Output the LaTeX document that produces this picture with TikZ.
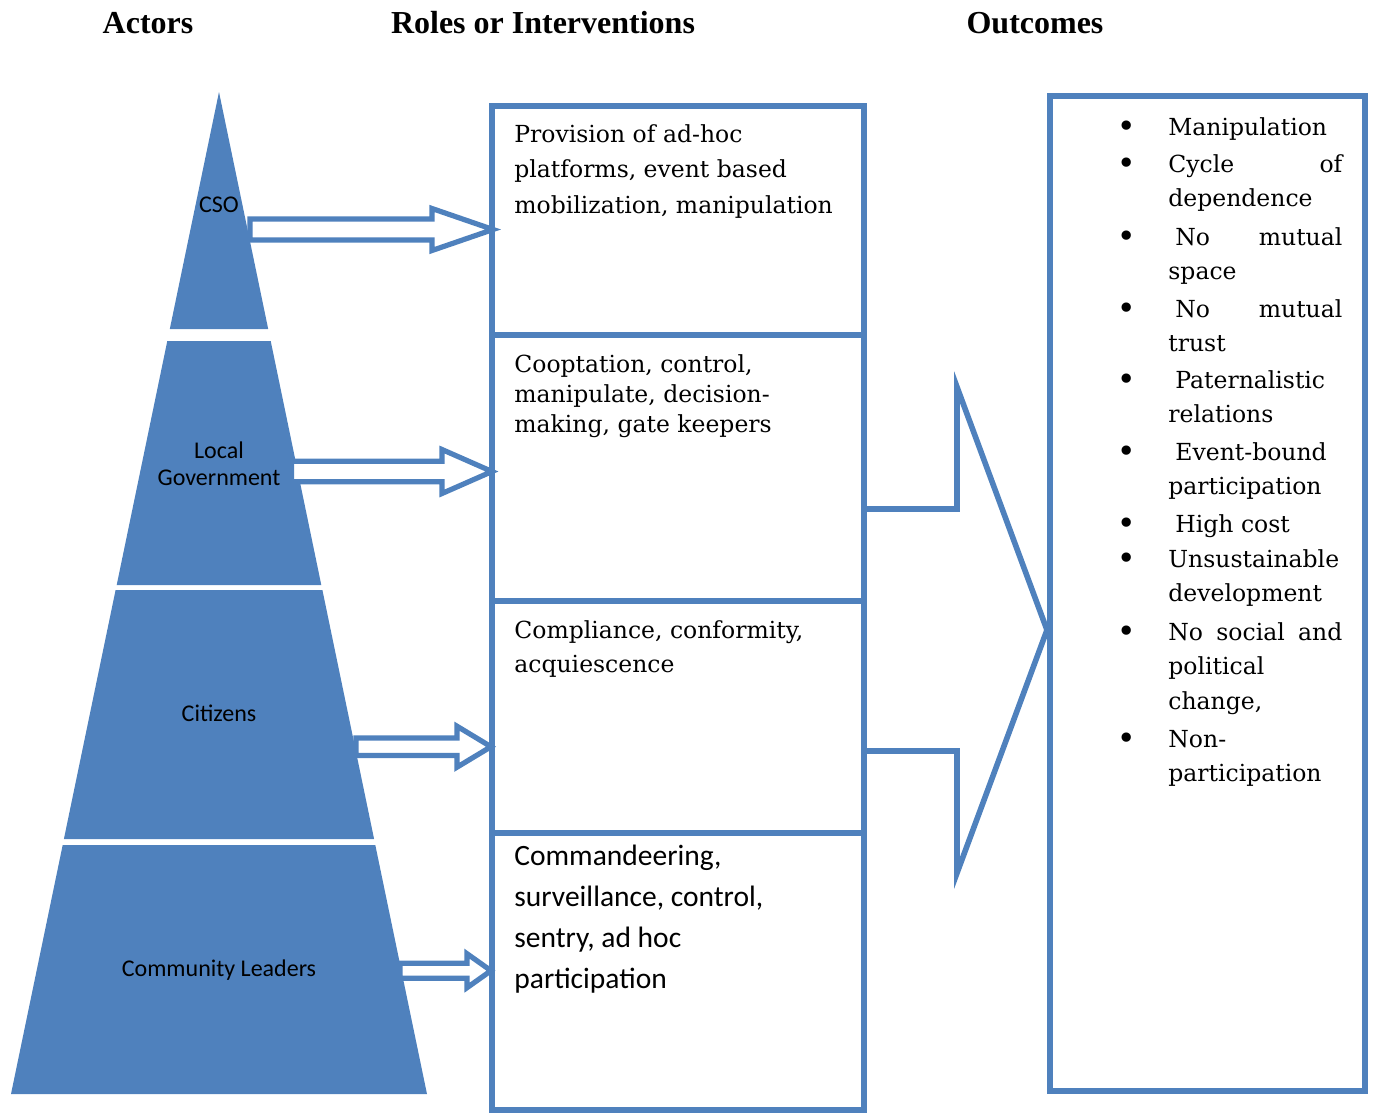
\documentclass[tikz,border=0pt]{standalone}
\usepackage{fontspec}
\setmainfont{DejaVu Serif}
\newfontfamily\headf{Liberation Serif}
\newfontfamily\sansf{Carlito}
\usetikzlibrary{calc}
\definecolor{ofblue}{HTML}{4F81BD}
\newcommand\tlines[2]{\begin{tabular}[t]{@{}#1@{}}#2\end{tabular}}
\newcommand\bul{\llap{\makebox[10pt]{\raisebox{-1pt}{\fontsize{16pt}{16pt}\selectfont\textbullet}}\hspace{16pt}}}
% #1 start, #2 tip, #3 shaft half width, #4 head half width, #5 head length
\newcommand\blockarrow[5]{%
  \draw[blockarr] ($(#1)+(0,-#3)$) -- ($(#2)+(-#5,-#3)$) -- ($(#2)+(-#5,-#4)$) -- (#2)
    -- ($(#2)+(-#5,#4)$) -- ($(#2)+(-#5,#3)$) -- ($(#1)+(0,#3)$) -- cycle;}
\tikzset{
  segment/.style={fill=ofblue},
  rolebox/.style={draw=ofblue, line width=3pt, minimum width=186pt, inner sep=0pt, outer sep=0pt},
  outbox/.style={draw=ofblue, line width=3pt, inner sep=0pt, outer sep=0pt},
  blockarr/.style={draw=ofblue, fill=white, line width=2.6pt, line join=miter, miter limit=20},
  bigarr/.style={draw=ofblue, line width=2.8pt, line join=miter, miter limit=20},
  head/.style={anchor=base, inner sep=0pt, font=\headf\bfseries\fontsize{16pt}{18pt}\selectfont},
  actor/.style={anchor=base, inner sep=0pt, font=\sansf\fontsize{12pt}{13.5pt}\selectfont},
  roletext/.style={anchor=base west, inner sep=0pt},
  outc/.style={anchor=base west, inner sep=0pt, font=\fontsize{11.75pt}{17.25pt}\selectfont}
}
\begin{document}
\begin{tikzpicture}[x=0.5pt,y=-0.5pt]
\useasboundingbox (0,0) rectangle (1373,1114);
% headings
\node[head] (h1) at (148,33) {Actors};
\node[head] (h2) at (543,33) {Roles or Interventions};
\node[head] (h3) at (1035,33) {Outcomes};
% pyramid
\fill[segment] (219,92) -- (268.2,329) -- (169.8,329) -- cycle;
\fill[segment] (167.3,341) -- (270.7,341) -- (321.3,585) -- (116.7,585) -- cycle;
\fill[segment] (115.6,590) -- (322.4,590) -- (374.1,839) -- (63.9,839) -- cycle;
\fill[segment] (62.7,845) -- (375.3,845) -- (427,1094) -- (11,1094) -- cycle;
% role boxes
\node[rolebox, minimum height=114.75pt] (r1) at (677.5,220.25) {};
\node[rolebox, minimum height=133pt] (r2) at (677.5,468) {};
\node[rolebox, minimum height=116pt] (r3) at (677.5,717) {};
\node[rolebox, minimum height=138.5pt] (r4) at (677.5,971.5) {};
% outcomes box
\node[outbox, minimum width=157.5pt, minimum height=497.75pt] (ob) at (1207.5,593.25) {};
% block arrows actor -> role
\coordinate (a1s) at (250,229.5);   \coordinate (a1t) at (493,229.5);
\coordinate (a2s) at (291.5,471.5); \coordinate (a2t) at (492,471.5);
\coordinate (a3s) at (356,746.7);   \coordinate (a3t) at (491,746.7);
\coordinate (a4s) at (400,970.7);   \coordinate (a4t) at (491,970.7);
\blockarrow{a1s}{a1t}{10.5}{21}{61}
\blockarrow{a2s}{a2t}{10.25}{22}{50}
\blockarrow{a3s}{a3t}{8.75}{20.5}{34}
\blockarrow{a4s}{a4t}{7.5}{17}{24}
% actor labels
\node[actor] (cso) at (219,212) {CSO};
\node[actor] (lg) at (219,458) {\tlines{c}{Local\\Government}};
\node[actor] (cit) at (219,721.7) {Citizens};
\node[actor] (cl) at (219,976.7) {Community Leaders};
% role texts
\node[roletext, font=\fontsize{11.75pt}{17.75pt}\selectfont] (t1) at (514,142)
  {\tlines{l}{Provision of ad-hoc\\platforms, event based\\mobilization, manipulation}};
\node[roletext, font=\fontsize{11.75pt}{15pt}\selectfont] (t2) at (514,372)
  {\tlines{l}{Cooptation, control,\\manipulate, decision-\\making, gate keepers}};
\node[roletext, font=\fontsize{11.75pt}{17pt}\selectfont] (t3) at (514,638)
  {\tlines{l}{Compliance, conformity,\\acquiescence}};
\node[roletext, font=\sansf\fontsize{14.75pt}{20.5pt}\selectfont] (t4) at (514,865)
  {\tlines{l}{Commandeering,\\surveillance, control,\\sentry, ad hoc\\participation}};
% big arrow role -> outcomes
\coordinate (ba1) at (863.5,509);
\coordinate (ba2) at (863.5,751);
\coordinate (btip) at (1047,630);
\draw[bigarr] (ba1) -- (957,509) -- (957,387) -- (btip) -- (957,873) -- (957,751) -- (ba2);
% outcomes
\node[outc] (o1) at (1168,135) {\tlines{l}{\bul Manipulation}};
\node[outc] (o2) at (1168,172) {\tlines{l}{\bul\makebox[87pt][s]{Cycle\hfill of}\\dependence}};
\node[outc] (o3) at (1168,245) {\tlines{l}{\bul\makebox[87pt][s]{\hspace{3.5pt}No\hfill mutual}\\space}};
\node[outc] (o4) at (1168,317) {\tlines{l}{\bul\makebox[87pt][s]{\hspace{3.5pt}No\hfill mutual}\\trust}};
\node[outc] (o5) at (1168,388) {\tlines{l}{\bul\hspace{3.5pt}Paternalistic\\relations}};
\node[outc] (o6) at (1168,460) {\tlines{l}{\bul\hspace{3.5pt}Event-bound\\participation}};
\node[outc] (o7) at (1168,532) {\tlines{l}{\bul\hspace{3.5pt}High cost}};
\node[outc] (o8) at (1168,567) {\tlines{l}{\bul Unsustainable\\development}};
\node[outc] (o9) at (1168,640) {\tlines{l}{\bul\makebox[87pt][s]{No social and}\\political\\change,}};
\node[outc] (o10) at (1168,747) {\tlines{l}{\bul Non-\\participation}};
\end{tikzpicture}
\end{document}
